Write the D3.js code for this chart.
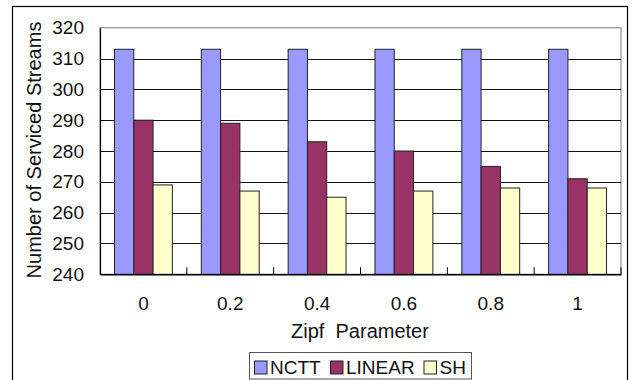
<!DOCTYPE html>
<html><head><meta charset="utf-8">
<script src="https://cdn.jsdelivr.net/npm/d3@7"></script>
<style>
html,body{margin:0;padding:0;background:#fff;}
svg{display:block;font-family:"Liberation Sans",Arial,sans-serif;}
</style></head>
<body>
<svg id="c" width="640" height="380"></svg>
<script>
const categories = ["0","0.2","0.4","0.6","0.8","1"];
const seriesNames = ["NCTT","LINEAR","SH"];
const ncttValues = [313,313,313,313,313,313];
const linearValues = [290,289,283,280,275,271];
const shValues = [269,267,265,267,268,268];
const yTicks = [240,250,260,270,280,290,300,310,320];
const colors = ["#9999FF","#993366","#FFFFCC"];

const seriesValues = [ncttValues, linearValues, shValues];
const svg = d3.select("#c");

// outer frame
svg.append("rect").attr("x",12.5).attr("y",6.5).attr("width",615).attr("height",390)
  .attr("fill","#fff").attr("stroke","#000").attr("stroke-width",1.2);

const L=100, R=621, T=27.7, B=274.3;
const x0 = d3.scaleBand().domain(categories).range([L,R]);
const bw = x0.bandwidth();
const gw = bw*3/4.5;
const x1 = d3.scaleBand().domain(seriesNames).range([(bw-gw)/2,(bw+gw)/2]);
const y = d3.scaleLinear().domain([240,320]).range([B,T]);

// plot area border
svg.append("rect").attr("x",L).attr("y",T).attr("width",R-L).attr("height",B-T)
  .attr("fill","#fff").attr("stroke","#a8a8a8").attr("stroke-width",1.5);

// gridlines
svg.append("g").selectAll("line").data(yTicks.filter(v=>v>240 && v<320)).join("line")
  .attr("x1",L).attr("x2",R).attr("y1",d=>Math.round(y(d))+0.5).attr("y2",d=>Math.round(y(d))+0.5)
  .attr("stroke","#111").attr("stroke-width",1);

// bars
const g = svg.append("g").selectAll("g").data(categories).join("g")
  .attr("transform",d=>`translate(${x0(d)},0)`);
g.selectAll("rect").data((d,i)=>seriesNames.map((s,j)=>({s,j,v:seriesValues[j][i]}))).join("rect")
  .attr("x",d=>x1(d.s)).attr("width",x1.bandwidth())
  .attr("y",d=>y(d.v)).attr("height",d=>B-y(d.v))
  .attr("fill",d=>colors[d.j]).attr("stroke","#222").attr("stroke-width",1);

// y axis
const yAxis = d3.axisLeft(y).tickValues(yTicks).tickSize(0).tickPadding(16).tickFormat(d3.format("d"));
const ya = svg.append("g").attr("transform",`translate(${L},0)`).call(yAxis);
ya.select(".domain").attr("stroke","#000").attr("stroke-width",1.2);
ya.selectAll("text").attr("font-size",19).attr("fill","#111").attr("font-family","Liberation Sans, Arial, sans-serif");

// x axis
const xAxis = d3.axisBottom(x0).tickSize(0).tickPadding(22);
const xa = svg.append("g").attr("transform",`translate(0,${B})`).call(xAxis);
xa.select(".domain").attr("stroke","#000").attr("stroke-width",1.5);
xa.selectAll("text").attr("font-size",19).attr("fill","#111").attr("font-family","Liberation Sans, Arial, sans-serif");
// category boundary ticks (inside)
svg.append("g").selectAll("line").data(categories.slice(1).concat(["end"])).join("line")
  .attr("x1",d=>d==="end"?R:x0(d)).attr("x2",d=>d==="end"?R:x0(d))
  .attr("y1",B).attr("y2",B-7).attr("stroke","#000").attr("stroke-width",1);

// titles
svg.append("text").attr("transform","translate(41,150) rotate(-90)").attr("text-anchor","middle")
  .attr("font-size",20).attr("fill","#111").text("Number of Serviced Streams");
svg.append("text").attr("x",360).attr("y",338).attr("text-anchor","middle").attr("xml:space","preserve")
  .style("white-space","pre").attr("font-size",20).attr("fill","#111").text("Zipf  Parameter");

// legend
const lg = svg.append("g");
lg.append("rect").attr("x",249.5).attr("y",352.5).attr("width",222).attr("height",26.5)
  .attr("fill","#fff").attr("stroke","#555").attr("stroke-width",1);
const lx = [254,330,423.5];
const li = lg.selectAll("g").data(seriesNames).join("g");
li.append("rect").attr("x",(d,i)=>lx[i]+0.5).attr("y",361).attr("width",12.5).attr("height",13)
  .attr("fill",(d,i)=>colors[i]).attr("stroke","#222").attr("stroke-width",1);
li.append("text").attr("x",(d,i)=>lx[i]+16).attr("y",374.3).attr("font-size",19).attr("fill","#111").text(d=>d);
</script>
</body></html>
